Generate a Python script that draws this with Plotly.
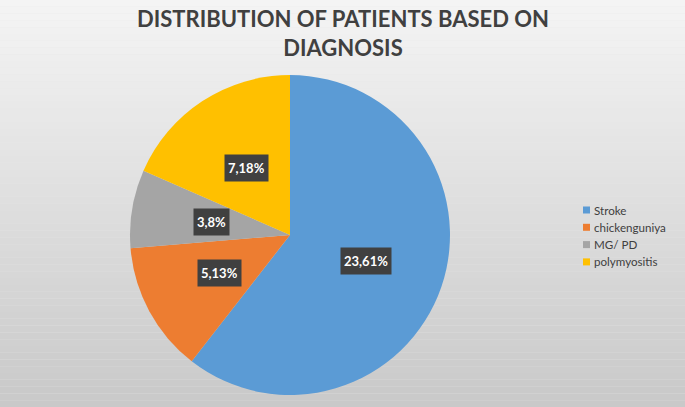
import math
import plotly.graph_objects as go

categories = ["Stroke", "chickenguniya", "MG/ PD", "polymyositis"]
counts = [23, 5, 3, 7]
percent_labels = ["61%", "13%", "8%", "18%"]
colors = ["#5B9BD5", "#ED7D31", "#A5A5A5", "#FFC000"]

W, H = 685, 407
cx, cy, R = 290, 235, 160  # pie centre / radius in pixels

fig = go.Figure()
fig.add_trace(go.Pie(
    labels=categories, values=counts, sort=False, direction="clockwise", rotation=0,
    marker=dict(colors=colors, line=dict(width=0)),
    textinfo="none", showlegend=False, hoverinfo="label+value",
    domain=dict(x=[(cx - R) / W, (cx + R) / W], y=[1 - (cy + R) / H, 1 - (cy - R) / H]),
))

# data labels at half radius, slice mid-angle, computed from values
total = sum(counts)
start = 0.0
for v, p in zip(counts, percent_labels):
    ang = start + v / total * 360 / 2
    start += v / total * 360
    a = math.radians(ang)
    px = cx + 0.5 * R * math.sin(a)
    py = cy - 0.5 * R * math.cos(a)
    fig.add_annotation(
        x=px / W, y=1 - py / H, xref="paper", yref="paper", showarrow=False,
        text=f"{v},{p}", font=dict(family="Lato", size=13, color="white", weight="bold"),
        bgcolor="#404040", borderpad=3, height=20, valign="middle",
        xanchor="center", yanchor="middle",
    )

# legend
lx, ly0, dy = 583, 210, 17.3
for i, (c, col) in enumerate(zip(categories, colors)):
    y = ly0 + i * dy
    fig.add_shape(type="rect", xref="paper", yref="paper",
                  x0=lx / W, x1=(lx + 7) / W, y0=1 - (y + 3.5) / H, y1=1 - (y - 3.5) / H,
                  fillcolor=col, line=dict(width=0))
    fig.add_annotation(x=(lx + 9) / W, y=1 - y / H, xref="paper", yref="paper",
                       showarrow=False, text=c, xanchor="left", yanchor="middle",
                       font=dict(family="Lato", size=11.6, color="#404040"))

# background gradient
n = 60
top = (244, 244, 244)
bot = (201, 201, 201)
for i in range(n):
    t = i / (n - 1)
    c = tuple(round(top[k] + (bot[k] - top[k]) * t) for k in range(3))
    fig.add_shape(type="rect", xref="paper", yref="paper", layer="below",
                  x0=0, x1=1, y0=1 - (i + 1) / n, y1=1 - i / n,
                  fillcolor="rgb(%d,%d,%d)" % c, line=dict(width=0))

fig.add_annotation(x=0.5, y=1 - 3 / H, xref="paper", yref="paper", showarrow=False,
                   text="DISTRIBUTION OF PATIENTS BASED ON<br>DIAGNOSIS",
                   xanchor="center", yanchor="top",
                   font=dict(family="Lato", size=22, color="#404040", weight="bold"))

fig.update_layout(width=W, height=H, margin=dict(l=0, r=0, t=0, b=0),
                  paper_bgcolor="#e6e6e6", plot_bgcolor="rgba(0,0,0,0)")
fig.write_html("out.html", config={"displayModeBar": False},
               post_script="document.body.style.margin='0';document.body.style.overflow='hidden';")
